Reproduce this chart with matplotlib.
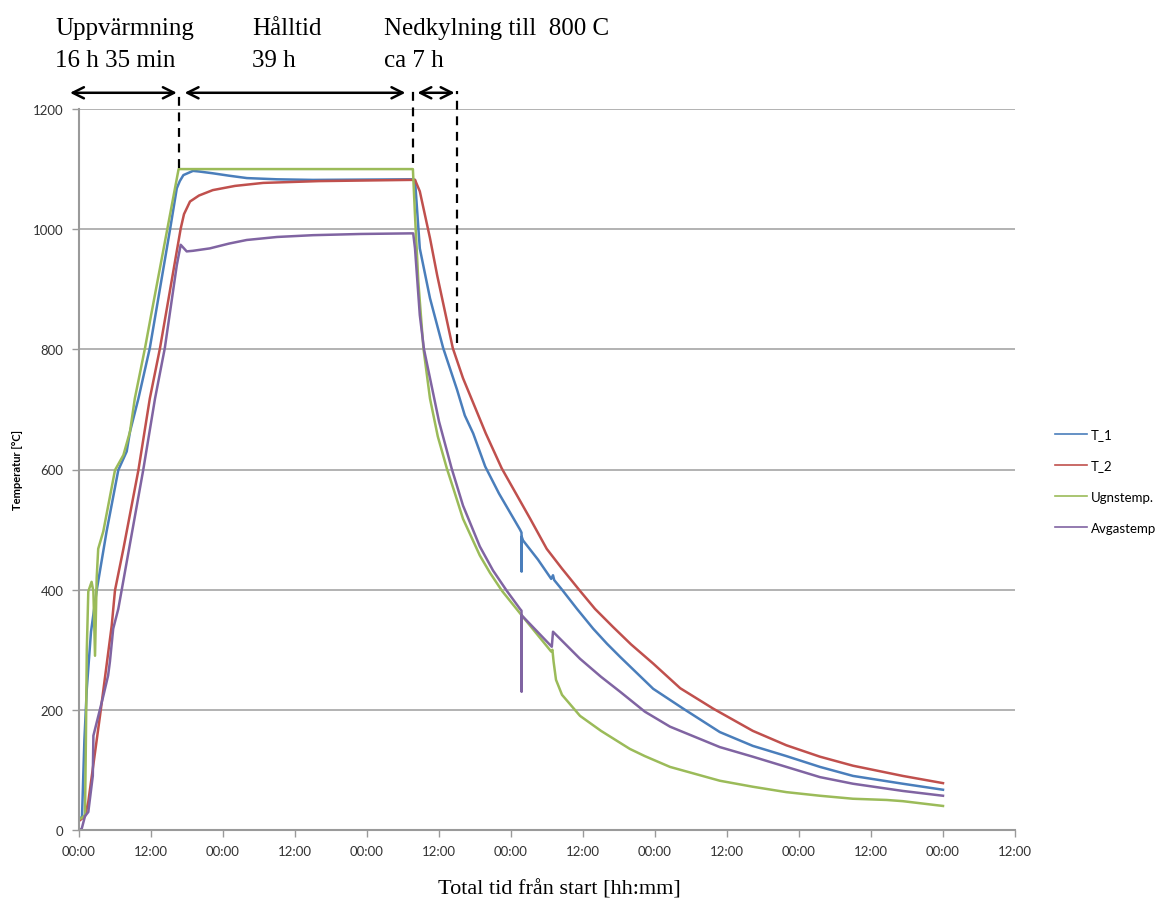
import matplotlib
matplotlib.use("Agg")
import matplotlib.pyplot as plt
from matplotlib.ticker import FixedLocator

# ---- data (hours from start, degrees C) ----
t1_h = [0.0, 0.5, 0.9, 1.3, 2.0, 2.95, 4.6, 6.55, 7.95, 8.5, 9.9, 11.8, 15.2, 16.3,
        16.8, 17.4, 19.0, 20.0, 22.3, 25.0, 28.0, 33.0, 39.0, 55.6, 56.0, 56.8,
        58.5, 60.7, 62.1, 63.0, 64.3, 65.7, 67.7, 70.0, 73.5, 73.75, 73.77, 73.79,
        74.0, 76.5, 78.7, 79.0, 79.2, 80.5, 83.0, 85.7, 88.0, 90.2, 95.7, 100.7,
        106.8, 112.3, 117.9, 123.5, 129.0, 137.3, 144.0]
t1_temp = [18, 22, 150, 235, 330, 399, 497, 599, 630, 663, 718, 802, 1001, 1068,
           1080, 1090, 1097, 1096, 1093, 1089, 1085, 1083, 1082, 1083, 1082, 968,
           885, 802, 760, 733, 690, 660, 605, 560, 500, 495, 430, 488,
           482, 450, 418, 424, 416, 400, 368, 335, 310, 288, 235, 202,
           163, 140, 123, 105, 90, 77, 67]

t2_h = [0.0, 1.0, 1.55, 3.5, 5.45, 6.0, 7.4, 9.9, 11.8, 13.5, 16.95, 17.5, 18.5,
        20.0, 22.3, 26.0, 30.7, 40.0, 55.2, 56.0, 56.8, 58.5, 59.7, 62.3, 64.0,
        65.2, 67.8, 70.45, 75.2, 77.95, 80.5, 83.5, 86.0, 89.0, 92.0, 95.7, 100.2,
        105.7, 112.3, 117.9, 123.5, 129.0, 137.3, 144.0]
t2_temp = [15, 23, 47, 190, 340, 399, 468, 599, 718, 802, 1001, 1025, 1046,
           1056, 1065, 1072, 1077, 1080, 1082, 1082, 1063, 985, 923, 802, 752,
           723, 660, 602, 518, 468, 435, 398, 368, 338, 309, 277, 236,
           202, 165, 141, 122, 107, 90, 78]

ugn_h = [0.0, 0.45, 1.0, 1.15, 1.3, 1.55, 2.1, 2.4, 2.67, 2.95, 3.2, 4.05, 6.0,
         7.4, 8.5, 9.3, 11.0, 12.0, 16.6, 55.65, 56.0, 56.55, 57.4, 58.5, 59.8,
         61.3, 62.5, 64.0, 66.8, 68.5, 70.5, 73.8, 78.7, 78.9, 79.1, 79.5, 80.5,
         83.5, 87.0, 91.8, 94.3, 98.5, 106.8, 112.3, 117.9, 123.5, 129.0, 134.6,
         137.3, 144.0]
ugn_temp = [18, 20, 25, 150, 300, 397, 413, 397, 290, 420, 468, 497, 599,
            624, 663, 718, 802, 856, 1100, 1100, 1023, 913, 802, 718, 655,
            602, 565, 518, 457, 428, 398, 357, 297, 300, 280, 250, 225,
            190, 165, 135, 123, 105, 82, 72, 63, 57, 52, 50,
            48, 40]

avg_h = [0.0, 0.45, 1.0, 1.55, 2.3, 2.4, 2.6, 4.05, 4.85, 5.15, 5.7, 6.55, 10.7,
         12.67, 14.3, 16.3, 16.95, 17.95, 19.0, 21.8, 25.0, 27.95, 33.0, 39.0,
         47.0, 55.2, 55.7, 56.0, 56.8, 57.5, 58.5, 60.0, 62.1, 64.0, 66.8, 69.0,
         71.3, 73.5, 73.75, 73.77, 73.79, 74.0, 78.8, 79.0, 83.5, 87.0, 90.2,
         94.3, 98.5, 106.8, 112.3, 117.9, 123.5, 129.0, 137.3, 144.0]
avg_temp = [0, 2, 23, 30, 90, 157, 165, 223, 257, 280, 335, 368, 599,
            718, 802, 940, 974, 963, 964, 968, 976, 982, 987, 990,
            992, 993, 993, 968, 857, 800, 752, 680, 602, 540, 472, 432,
            398, 368, 365, 230, 357, 355, 305, 330, 285, 255, 230,
            197, 172, 138, 122, 105, 88, 77, 65, 57]

series_names = ["T_1", "T_2", "Ugnstemp.", "Avgastemp"]
series_colors = ["#4A7EBB", "#C0504D", "#9BBB59", "#8064A2"]

# phase boundaries (hours)
heat_end = 16.6
hold_end = 55.6
cool_end = 63.0

x_ticks = list(range(0, 157, 12))
x_ticklabels = ["00:00" if i % 2 == 0 else "12:00" for i in range(len(x_ticks))]
y_ticks = [0, 200, 400, 600, 800, 1000, 1200]

fig = plt.figure(figsize=(11.68, 9.03), dpi=100)
ax = fig.add_axes([79 / 1168, 72 / 903, 936 / 1168, 721 / 903])

data = [(t1_h, t1_temp), (t2_h, t2_temp), (ugn_h, ugn_temp), (avg_h, avg_temp)]
for (h, temp), name, col in zip(data, series_names, series_colors):
    ax.plot(h, temp, color=col, lw=1.8, label=name, solid_joinstyle='round')

ax.set_xlim(0, 156)
ax.set_ylim(0, 1200)
ax.xaxis.set_major_locator(FixedLocator(x_ticks))
ax.set_xticklabels(x_ticklabels)
ax.set_yticks(y_ticks)
ax.yaxis.grid(True, color='#a6a6a6', lw=1.2)
ax.set_axisbelow(True)

for s in ['top', 'right']:
    ax.spines[s].set_visible(False)
for s in ['left', 'bottom']:
    ax.spines[s].set_color('#9a9a9a')
    ax.spines[s].set_linewidth(1.5)

ax.tick_params(axis='both', colors='#9a9a9a', length=5, width=1.0, labelsize=9.5,
               labelcolor='#333333', pad=6)
for lbl in ax.get_xticklabels() + ax.get_yticklabels():
    lbl.set_family('Lato')

# phase annotations
arrow_T = 1227
dash_top = 1230
for x, bottom in [(heat_end, 1102), (hold_end, 1110), (cool_end, 810)]:
    ax.plot([x, x], [bottom, dash_top], color='black', lw=1.6,
            ls=(0, (4, 3)), clip_on=False)

arrow_kw = dict(arrowstyle='<->', lw=1.8, color='black', mutation_scale=20,
                shrinkA=0, shrinkB=0)
for x1, x2 in [(-1.5, heat_end - 0.3), (heat_end + 1.0, hold_end - 1.2),
               (hold_end + 0.8, cool_end - 0.4)]:
    ax.annotate('', xy=(x2, arrow_T), xytext=(x1, arrow_T), xycoords='data',
                arrowprops=arrow_kw, annotation_clip=False)

serif = 'Liberation Serif'
head_y = 1 - 18 / 903
for x, txt in [(55, "Uppvärmning\n16 h 35 min"), (252, "Hålltid\n39 h"),
               (384, "Nedkylning till  800 C\nca 7 h")]:
    fig.text(x / 1168, head_y, txt, family=serif, fontsize=18, va='top',
             ha='left', linespacing=1.6)

fig.text(18 / 1168, 1 - 470 / 903, "Temperatur [°C]", rotation=90, ha='center',
         va='center', fontsize=8, fontweight='bold', family='Lato')
fig.text(559 / 1168, 1 - 890 / 903, "Total tid från start [hh:mm]", ha='center',
         va='center', fontsize=16, family=serif)

leg = fig.legend(loc='center left', bbox_to_anchor=(1055 / 1168, 1 - 482 / 903),
                 frameon=False, prop={'family': 'Lato', 'size': 9.5},
                 handlelength=2.4, handletextpad=0.3, labelspacing=1.45,
                 borderpad=0, borderaxespad=0)
for line in leg.get_lines():
    line.set_linewidth(1.2)

fig.savefig("out.png", dpi=100, facecolor='white')
